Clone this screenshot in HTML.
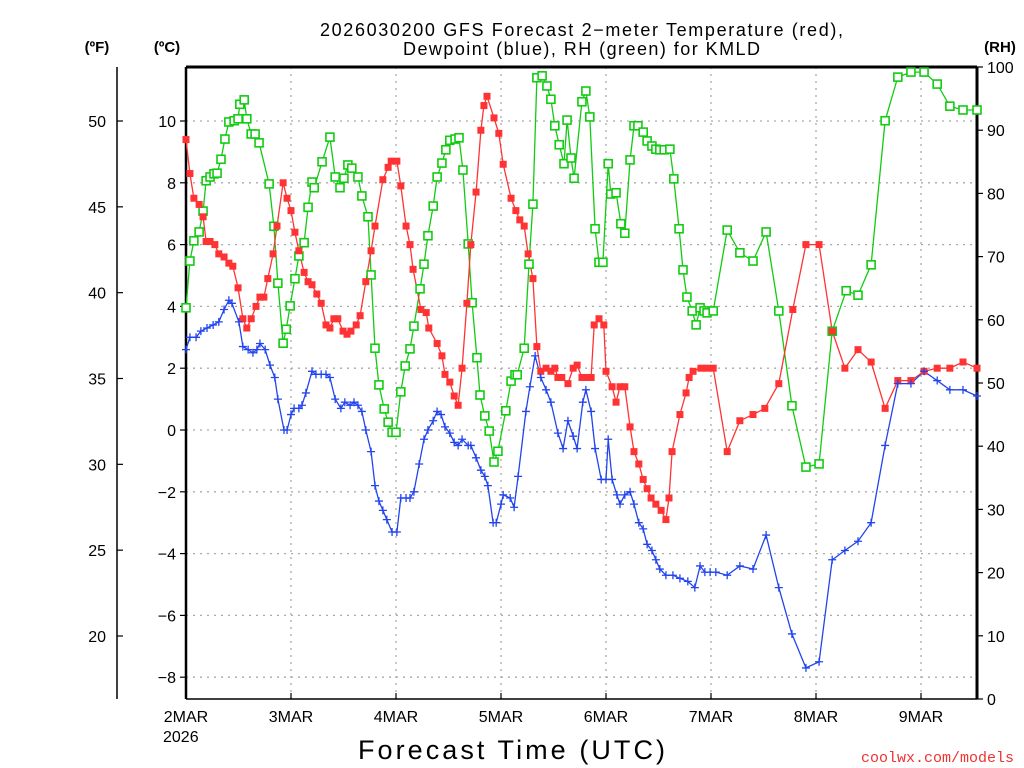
<!DOCTYPE html>
<html><head><meta charset="utf-8"><style>
body{margin:0;background:#fff;}
svg{display:block;font-family:"Liberation Sans",sans-serif;}
</style></head><body>
<svg id="chart" width="1024" height="768" xmlns="http://www.w3.org/2000/svg">
<text x="320" y="36" font-size="18" textLength="523" lengthAdjust="spacing">2026030200 GFS Forecast 2−meter Temperature (red),</text>
<text x="403" y="55" font-size="18" textLength="357" lengthAdjust="spacing">Dewpoint (blue), RH (green) for KMLD</text>
<text x="97" y="52" font-size="15" font-weight="bold" text-anchor="middle">(ºF)</text>
<text x="167" y="52" font-size="15" font-weight="bold" text-anchor="middle">(ºC)</text>
<text x="1000" y="52" font-size="15" font-weight="bold" text-anchor="middle">(RH)</text>
<text x="358" y="759" font-size="27" textLength="307" lengthAdjust="spacing">Forecast Time (UTC)</text>
<text x="1014" y="762" font-size="15" fill="#e33" text-anchor="end" font-family="Liberation Mono, monospace">coolwx.com/models</text>
<g id="grid"></g><g id="axes"></g><g id="series"></g>
</svg>
<script>
const dayLabels=["2MAR","3MAR","4MAR","5MAR","6MAR","7MAR","8MAR","9MAR"];
const celsiusTicks=[10,8,6,4,2,0,-2,-4,-6,-8];
const fahrenheitTicks=[50,45,40,35,30,25,20];
const rhTicks=[100,90,80,70,60,50,40,30,20,10,0];
const tempHours=[0,0.9,1.8,3,3.9,4.6,5.5,6.6,7.5,8.7,9.8,10.7,11.9,13,13.9,14.9,16,16.9,17.8,18.7,19.9,20.8,22.2,23.1,24,24.9,25.8,27,27.9,28.8,29.9,30.9,32,32.9,33.8,34.7,35.9,36.8,37.7,38.9,39.8,41.1,42.3,43.2,45,46.2,46.9,48.2,49.1,50.3,51.2,51.9,53.7,54.9,55.5,57.4,58.5,59.2,60.3,61.3,62.2,63.1,64.2,65.1,66.3,67.4,68.1,68.8,70.4,71.5,72.5,74.3,75.4,76.3,77.3,78.2,79.3,80.2,81.1,82.3,83.4,84.3,85,85.9,87.3,88.5,89.4,90.5,91.7,92.6,93.3,94.4,95.5,96,97.4,98.3,99.2,100.3,101.5,102.4,103.5,104.5,105.4,106.3,107.4,108.6,109.7,110.4,111.1,112.9,114.3,115,115.9,117.7,119.1,120.5,123.7,126.6,129.6,132.3,135.5,138.7,141.7,144.7,147.7,150.6,153.6,156.6,159.8,162.7,165.7,168.7,171.7,174.6,177.6,180.8];
const tempC=[9.4,8.3,7.5,7.3,6.9,6.1,6.1,6.0,5.7,5.6,5.4,5.3,4.6,3.6,3.3,3.6,4.0,4.3,4.3,4.9,5.7,6.6,8.0,7.5,7.1,6.4,5.8,5.1,4.8,4.7,4.4,4.1,3.4,3.3,3.6,3.6,3.2,3.1,3.2,3.4,3.7,4.8,5.8,6.6,8.1,8.5,8.7,8.7,7.9,6.6,6.0,5.2,3.9,3.8,3.3,2.8,2.4,1.8,1.55,1.1,0.8,2.0,4.1,6.0,7.7,9.7,10.5,10.8,10.1,9.6,8.6,7.5,7.1,6.8,6.6,5.7,4.9,2.7,1.9,2.0,1.9,2.0,1.7,1.7,1.5,2.0,2.1,1.7,1.7,1.7,3.4,3.6,3.4,1.9,1.4,0.9,1.4,1.4,0.1,-0.7,-1.1,-1.6,-1.9,-2.2,-2.4,-2.6,-2.9,-2.2,-0.7,0.5,1.2,1.7,1.9,2.0,2.0,2.0,-0.7,0.3,0.5,0.7,1.5,3.9,6.0,6.0,3.2,2.0,2.6,2.2,0.7,1.6,1.6,1.9,2.0,2.0,2.2,2.0];
const rhHours=[0,0.9,1.8,3,3.9,4.6,5.5,6.4,7.1,8,8.9,9.8,11,11.9,12.3,13.3,13.9,14.9,15.8,16.7,19,20.1,21,22.2,22.9,23.8,24.9,25.8,27,27.9,28.8,29.3,31.1,32.9,34.1,35.2,36.1,37,37.9,39.3,40.2,41.6,42.3,43.2,44.1,45.3,46.2,47.1,48,49.1,50.1,51.2,52.1,53.5,54.4,55.3,56.5,57.4,58.5,59.4,60.3,61.5,62.4,63.3,64.5,65.4,66.5,67.2,68.3,69.3,70.4,71.3,73.1,74.3,75.2,75.7,77.3,78.4,79.3,80.2,81.4,82.5,83.4,84.3,85.3,86.4,87.1,88,88.7,90.5,91.4,92.3,93.5,94.4,95.3,96.5,97.1,98.3,99.4,100.3,101.5,102.4,103.3,104.5,105.4,106.5,107.4,108.3,109.3,110.6,111.5,112.7,113.6,114.5,115.7,116.6,117.5,118.4,119.1,120.5,123.7,126.6,129.6,132.6,135.5,138.5,141.7,144.7,147.7,150.9,153.6,156.6,159.8,162.7,165.7,168.7,171.7,174.6,177.6,180.8];
const rhValues=[61.9,69.3,72.5,73.9,77.2,82,82.6,83.1,83.2,85.4,88.6,91.3,91.5,91.8,94.1,94.8,91.8,89.4,89.4,88,81.5,74.8,65.8,56.3,58.5,62.2,66.5,70.1,72.2,77.8,81.8,80.9,85,88.9,82.6,80.9,82.4,84.5,84,82.6,79.6,76.3,67.1,55.5,49.7,45.9,43.8,42.2,42.2,48.6,52.7,55.4,59,64.9,68.8,73.3,78,82.6,84.8,86.9,88.4,88.6,88.8,83.7,72,62.7,54,48.1,44.8,42.4,37.5,39.2,45.6,50.3,51.3,51.3,55.5,68.8,78.3,98.3,98.6,97,94.9,90.7,87.7,84.7,91.6,85.6,82.4,94.5,96.2,92.1,74.4,69.1,69.1,84.7,79.9,80.1,75.2,73.7,85.3,90.7,90.7,89.7,88.3,87.5,87,86.9,86.9,87,82.3,74.4,67.9,63.6,61.4,59.2,61.9,61.4,61.1,61.4,74.2,70.6,69.3,73.9,61.4,46.4,36.7,37.2,58.2,64.6,63.9,68.7,91.5,98.4,99.2,99.2,97.3,93.8,93.2,93.2];
const dewHours=[0,0.9,2.3,3.4,4.8,6.2,7.5,8.7,9.8,10.5,12.1,13,14.2,15.3,16.2,16.9,18.1,19.2,20.3,21,22.4,23.1,24,24.7,25.8,26.5,27.4,28.8,29.7,30.9,32,32.9,34.1,35.4,36.3,37.5,38.4,39.3,40.2,41.1,42.3,43.2,44.1,45,45.9,47.1,48.2,49.1,50.3,51.2,52.1,53.3,54.4,55.3,56.5,57.4,58.3,59.2,60.3,61.3,62.2,63.1,64.5,65.1,66.3,67.4,68.3,69,70.2,70.9,72,72.5,74.1,75,75.9,77.7,78.6,79.8,81.1,82.3,83.4,85,86.2,87.3,88.5,89.4,90.7,91.4,92.6,93.5,94.9,96,96.5,97.4,98.5,99.2,100.3,101.5,102.4,103.5,104.5,105.4,106.5,107.4,108.3,109.7,111.3,112.9,114.7,116.3,117.5,118.6,119.8,121.1,123.7,126.6,129.6,132.6,135.5,138.5,141.7,144.7,147.7,150.6,153.6,156.6,159.8,162.7,165.7,168.7,171.7,174.6,177.6,180.8];
const dewC=[2.6,3.0,3.0,3.2,3.3,3.4,3.5,3.9,4.2,4.1,3.5,2.7,2.6,2.5,2.6,2.8,2.6,2.1,1.7,1.0,0.0,0.0,0.5,0.7,0.7,0.8,1.2,1.9,1.8,1.8,1.8,1.7,1.0,0.7,0.9,0.8,0.9,0.8,0.6,0.0,-0.7,-1.8,-2.3,-2.6,-2.9,-3.3,-3.3,-2.2,-2.2,-2.2,-2.0,-1.1,-0.3,0.0,0.3,0.6,0.5,0.1,-0.1,-0.4,-0.5,-0.3,-0.5,-0.5,-0.9,-1.3,-1.5,-1.8,-3.0,-3.0,-2.4,-2.1,-2.2,-2.5,-1.5,0.6,1.4,2.4,1.7,1.3,0.9,-0.1,-0.6,0.3,-0.2,-0.6,0.9,1.3,0.6,-0.6,-1.6,-1.6,-0.3,-1.6,-2.1,-2.4,-2.1,-2.0,-2.4,-3.0,-3.2,-3.7,-3.9,-4.2,-4.5,-4.7,-4.7,-4.8,-4.9,-5.1,-4.4,-4.6,-4.6,-4.6,-4.7,-4.4,-4.5,-3.4,-5.1,-6.6,-7.7,-7.5,-4.2,-3.9,-3.6,-3.0,-0.5,1.5,1.5,1.9,1.6,1.3,1.3,1.1];

const NS="http://www.w3.org/2000/svg";
const L=186,R=977,T=67,B=699;
const xH=h=>L+h*4.375;
const yC=c=>430-c*30.9;
const yF=f=>yC((f-32)*5/9);
const yRH=r=>B-r*(B-T)/100;
function mk(parent,tag,attrs,text){const e=document.createElementNS(NS,tag);for(const k in attrs)e.setAttribute(k,attrs[k]);if(text!==undefined)e.textContent=text;document.getElementById(parent).appendChild(e);return e;}

celsiusTicks.forEach(c=>{const e=mk('grid','line',{x1:L,x2:R,y1:yC(c),y2:yC(c),stroke:'#aaa','stroke-dasharray':'2,5','stroke-width':1.3});

});
dayLabels.forEach((d,i)=>{if(i===0)return;const e=mk('grid','line',{x1:xH(i*24),x2:xH(i*24),y1:T,y2:B,stroke:'#aaa','stroke-dasharray':'2,5','stroke-width':1.3});

});

[[L,T,L,B,2.5],[L,T,R,T,3],[R,T,R,B,3],[L,B,R,B,1.5],[117,T,117,B,1.5]].forEach(a=>{const e=mk('axes','line',{x1:a[0],y1:a[1],x2:a[2],y2:a[3],stroke:'#000','stroke-width':a[4]});

});
celsiusTicks.forEach(c=>{mk('axes','line',{x1:L-6,x2:L,y1:yC(c),y2:yC(c),stroke:'#000','stroke-width':1.2});
const t=mk('axes','text',{x:176,y:yC(c)+6,'font-size':16,'text-anchor':'end'},(c<0?'−'+(-c):c));

});
fahrenheitTicks.forEach(f=>{mk('axes','line',{x1:117,x2:123,y1:yF(f),y2:yF(f),stroke:'#000','stroke-width':1.2});
const t=mk('axes','text',{x:106,y:yF(f)+6,'font-size':16,'text-anchor':'end'},f);

});
rhTicks.forEach(r=>{mk('axes','line',{x1:R,x2:R+6,y1:yRH(r),y2:yRH(r),stroke:'#000','stroke-width':1.2});
const t=mk('axes','text',{x:987,y:yRH(r)+6,'font-size':16},r);

});
dayLabels.forEach((d,i)=>{mk('axes','line',{x1:xH(i*24),x2:xH(i*24),y1:B,y2:B-6,stroke:'#000','stroke-width':1.2});
const t=mk('axes','text',{x:xH(i*24),y:722,'font-size':16,'text-anchor':'middle'},d);

});
const yr=mk('axes','text',{x:163,y:742,'font-size':16},'2026');



function line(hours,vals,yf,color,name){const pts=hours.map((h,i)=>xH(h).toFixed(1)+','+yf(vals[i]).toFixed(1)).join(' ');
const e=mk('series','polyline',{points:pts,fill:'none',stroke:color,'stroke-width':1.3});

}
line(rhHours,rhValues,yRH,'#1c1','rh-line');
line(tempHours,tempC,yC,'#f33','temperature-line');
line(dewHours,dewC,yC,'#24e','dewpoint-line');
rhHours.forEach((h,i)=>{const e=mk('series','rect',{x:xH(h)-4,y:yRH(rhValues[i])-4,width:8,height:8,fill:'#fff',stroke:'#1c1','stroke-width':1.6});

});
tempHours.forEach((h,i)=>{const e=mk('series','rect',{x:xH(h)-3.5,y:yC(tempC[i])-3.5,width:7,height:7,fill:'#f33'});

});
dewHours.forEach((h,i)=>{const x=xH(h),y=yC(dewC[i]);const e=mk('series','path',{d:`M${x-4},${y}H${x+4}M${x},${y-4}V${y+4}`,stroke:'#24e','stroke-width':1.3});

});
</script>
</body></html>
